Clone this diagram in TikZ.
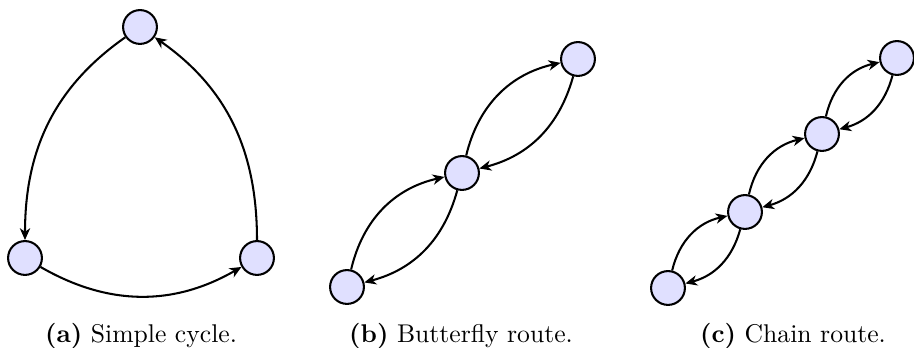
\documentclass[tikz,border=0pt]{standalone}
\usetikzlibrary{arrows.meta}
\begin{document}
\begin{tikzpicture}[x=0.39pt,y=-0.39pt,
  vtx/.style={circle,draw=black,thick,fill=blue!12,minimum size=13.2pt,inner sep=0pt},
  arr/.style={thick,-{Stealth[length=4.6pt,width=4pt,inset=1.4pt]}},
  captext/.style={font=\normalsize,anchor=base}]
\useasboundingbox (0,0) rectangle (914,348);
% (a)
\node[vtx] (a1) at (140,27) {};
\node[vtx] (a2) at (25,258) {};
\node[vtx] (a3) at (257,258) {};
\draw[arr] (a1) to[out=215,in=90] (a2);
\draw[arr] (a2) to[out=-30,in=210] (a3);
\draw[arr] (a3) to[out=90,in=-35] (a1);
\node[captext] (ca) at (141,343) {\textbf{(a)} Simple cycle.};
% (b)
\node[vtx] (b1) at (347,287) {};
\node[vtx] (b2) at (462,173) {};
\node[vtx] (b3) at (578,59) {};
\draw[arr] (b1) to[bend left=32] (b2);
\draw[arr] (b2) to[bend left=30] (b1);
\draw[arr] (b2) to[bend left=32] (b3);
\draw[arr] (b3) to[bend left=30] (b2);
\node[captext] (cb) at (461,343) {\textbf{(b)} Butterfly route.};
% (c)
\node[vtx] (c1) at (668,288) {};
\node[vtx] (c2) at (745,212) {};
\node[vtx] (c3) at (822,134) {};
\node[vtx] (c4) at (897,58) {};
\draw[arr] (c1) to[bend left=32] (c2);
\draw[arr] (c2) to[bend left=30] (c1);
\draw[arr] (c2) to[bend left=32] (c3);
\draw[arr] (c3) to[bend left=30] (c2);
\draw[arr] (c3) to[bend left=32] (c4);
\draw[arr] (c4) to[bend left=30] (c3);
\node[captext] (cc) at (793,343) {\textbf{(c)} Chain route.};
\end{tikzpicture}
\end{document}
